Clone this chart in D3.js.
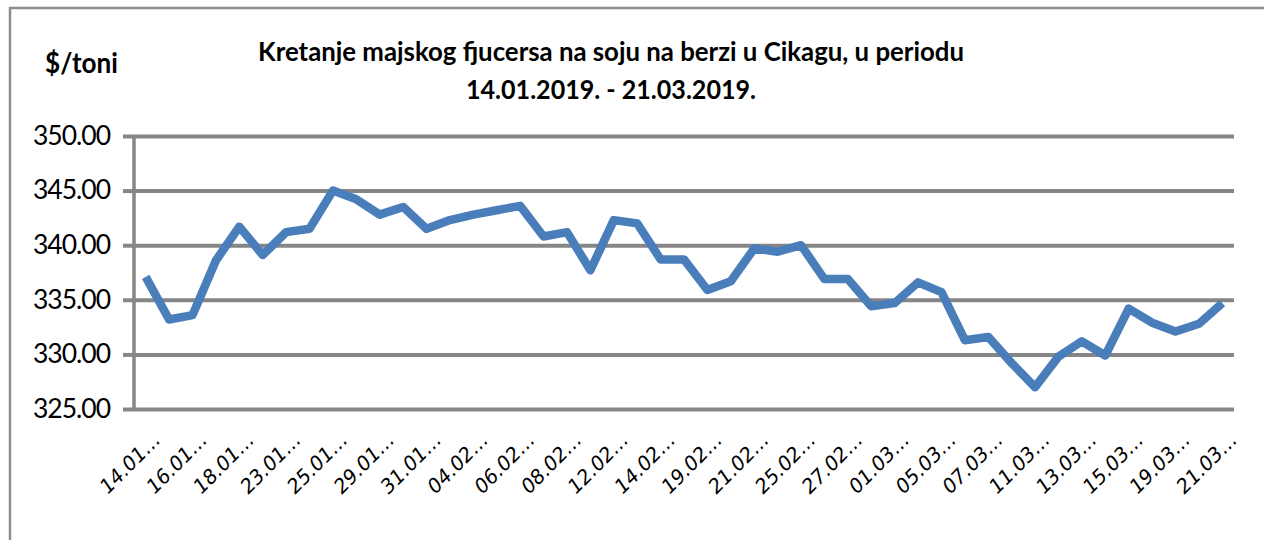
<!DOCTYPE html>
<html lang="hr">
<head>
  <meta charset="UTF-8">
  <title>Kretanje majskog fjucersa na soju</title>
  <script src="https://cdn.jsdelivr.net/npm/d3@7"></script>
  <style>
    body { margin: 0; background: #fff; }
    svg { display: block; }
  </style>
</head>
<body>
<svg></svg>
<script>
  // datumi trgovanja (14.01.2019. - 21.03.2019.)
  const dates = [
    '14.01.2019.', '15.01.2019.', '16.01.2019.', '17.01.2019.', '18.01.2019.',
    '22.01.2019.', '23.01.2019.', '24.01.2019.', '25.01.2019.', '28.01.2019.',
    '29.01.2019.', '30.01.2019.', '31.01.2019.', '01.02.2019.', '04.02.2019.',
    '05.02.2019.', '06.02.2019.', '07.02.2019.', '08.02.2019.', '11.02.2019.',
    '12.02.2019.', '13.02.2019.', '14.02.2019.', '15.02.2019.', '19.02.2019.',
    '20.02.2019.', '21.02.2019.', '22.02.2019.', '25.02.2019.', '26.02.2019.',
    '27.02.2019.', '28.02.2019.', '01.03.2019.', '04.03.2019.', '05.03.2019.',
    '06.03.2019.', '07.03.2019.', '08.03.2019.', '11.03.2019.', '12.03.2019.',
    '13.03.2019.', '14.03.2019.', '15.03.2019.', '18.03.2019.', '19.03.2019.',
    '20.03.2019.', '21.03.2019.'
  ]

  // cijena ($/toni)
  const prices = [
    337.1, 333.2, 333.6, 338.6, 341.7, 339.1, 341.2, 341.5, 345.0, 344.2,
    342.8, 343.5, 341.5, 342.3, 342.8, 343.2, 343.6, 340.8, 341.2, 337.7,
    342.3, 342.0, 338.7, 338.7, 335.9, 336.7, 339.7, 339.4, 340.0, 336.9,
    336.9, 334.4, 334.7, 336.6, 335.7, 331.3, 331.6, 329.2, 327.0, 329.8,
    331.2, 329.9, 334.2, 332.9, 332.1, 332.8, 334.7
  ]

  const yTicks = [325, 330, 335, 340, 345, 350]
  const titleLines = ['Kretanje majskog  fjucersa na soju na berzi u Cikagu,  u periodu', '14.01.2019. - 21.03.2019.']
  const unitLabel = '$/toni'

  const width = 1264, height = 540
  const margin = {top: 136, right: 30, bottom: 131, left: 134}

  const svg = d3.select('svg')
      .attr('width', width)
      .attr('height', height)
      .attr('viewBox', [0, 0, width, height])

  // okvir grafikona (desni i donji rub izvan slike)
  svg.append('rect')
      .attr('x', 10).attr('y', 8)
      .attr('width', 1300).attr('height', 600)
      .attr('fill', '#fff')
      .attr('stroke', '#8e8e8e')
      .attr('stroke-width', 2.5)

  const x = d3.scalePoint()
      .domain(dates)
      .range([margin.left, width - margin.right])
      .padding(0.5)

  const y = d3.scaleLinear()
      .domain([325, 350])
      .range([height - margin.bottom, margin.top])

  const grey = '#868686'

  // mreža
  svg.append('g')
      .attr('transform', `translate(${margin.left},0)`)
      .call(d3.axisLeft(y).tickValues(yTicks).tickSize(-(width - margin.right - margin.left)).tickFormat(''))
      .call(g => g.select('.domain').remove())
      .call(g => g.selectAll('line').attr('stroke', grey).attr('stroke-width', 4))

  // Y os
  svg.append('g')
      .attr('transform', `translate(${margin.left},0)`)
      .call(d3.axisLeft(y).tickValues(yTicks).tickSize(11).tickPadding(13).tickFormat(d3.format('.2f')))
      .call(g => g.select('.domain').attr('stroke', grey).attr('stroke-width', 3.5).attr('d', `M0,${y(350)}V${y(325)}`))
      .call(g => g.selectAll('line').attr('stroke', grey).attr('stroke-width', 4))
      .call(g => g.selectAll('text')
          .attr('fill', '#000')
          .style('font-family', 'Lato, sans-serif')
          .style('font-size', '26px')
          .style('letter-spacing', '-1px')
          .attr('textLength', 77)
          .attr('lengthAdjust', 'spacingAndGlyphs'))

  // X oznake (svaki drugi datum, skraćeno)
  svg.append('g')
      .selectAll('text')
      .data(dates.filter((d, i) => i % 2 === 0))
      .join('text')
      .attr('transform', d => `translate(${x(d) + 16},441) rotate(-45)`)
      .attr('text-anchor', 'end')
      .attr('textLength', 76)
      .attr('lengthAdjust', 'spacingAndGlyphs')
      .style('font-family', 'DejaVu Sans, sans-serif')
      .style('font-size', '20px')
      .style('font-style', 'italic')
      .text(d => d.slice(0, 5) + '…')

  // linija
  const line = d3.line()
      .x((d, i) => x(dates[i]))
      .y(d => y(d))

  svg.append('path')
      .datum(prices)
      .attr('fill', 'none')
      .attr('stroke', '#4a7ebb')
      .attr('stroke-width', 8.5)
      .attr('stroke-linejoin', 'round')
      .attr('d', line)

  // naslov
  svg.append('g')
      .selectAll('text')
      .data(titleLines)
      .join('text')
      .attr('x', 611)
      .attr('y', (d, i) => 61 + i * 38)
      .attr('text-anchor', 'middle')
      .attr('textLength', (d, i) => i === 0 ? 706 : 290)
      .attr('lengthAdjust', 'spacingAndGlyphs')
      .style('font-family', 'Lato, sans-serif')
      .style('font-weight', 'bold')
      .style('font-size', '26px')
      .text(d => d)

  svg.append('text')
      .attr('x', 45)
      .attr('y', 73)
      .attr('textLength', 73)
      .attr('lengthAdjust', 'spacingAndGlyphs')
      .style('font-family', 'Lato, sans-serif')
      .style('font-weight', 'bold')
      .style('font-size', '28px')
      .text(unitLabel)
</script>
</body>
</html>
